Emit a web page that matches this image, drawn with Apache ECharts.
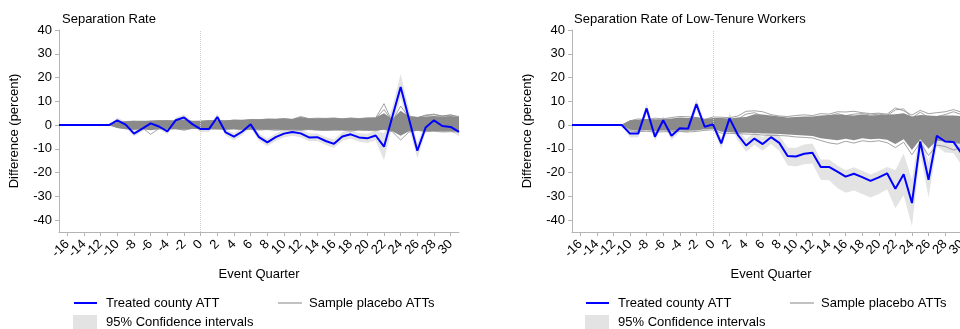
<!DOCTYPE html>
<html>
<head>
<meta charset="utf-8">
<script src="https://cdn.jsdelivr.net/npm/echarts@6/dist/echarts.min.js"></script>
<style>
html,body{margin:0;padding:0;background:#fff;}
#chart{width:960px;height:329px;}
</style>
</head>
<body>
<div id="chart"></div>
<script>
// ---- categories ----
const quarters = [-17,-16,-15,-14,-13,-12,-11,-10,-9,-8,-7,-6,-5,-4,-3,-2,-1,0,1,2,3,4,5,6,7,8,9,10,11,12,13,14,15,16,17,18,19,20,21,22,23,24,25,26,27,28,29,30,31];
const yTicks = [-40,-30,-20,-10,0,10,20,30,40];
const titles = ["Separation Rate", "Separation Rate of Low-Tenure Workers"];

// ---- Left panel: Separation Rate ----
const attL = [0,0,0,0,0,0,0, 2.0,0.2,-3.6,-1.5,0.7,-0.6,-2.7,2.0,3.2,0.4,-1.7,-1.7,3.4,-3.1,-4.9,-2.7,0.3,-5.1,-7.3,-5.1,-3.6,-2.9,-3.5,-5.2,-5.1,-6.7,-7.9,-4.8,-3.9,-5.2,-5.6,-4.4,-9.1,3.5,16.0,2.5,-10.8,-1.0,2.0,-0.4,-0.8,-2.9];
const ciLoL = [0,0,0,0,0,0,0, 0.8,-1.0,-4.8,-2.7,-0.5,-1.8,-3.9,0.8,2.0,-0.8,-2.9,-2.9,2.0,-4.5,-6.4,-4.2,-1.2,-6.6,-8.9,-6.7,-5.2,-4.5,-5.1,-6.8,-6.7,-8.4,-9.7,-6.6,-5.7,-7.0,-7.5,-6.5,-14.8,-0.5,11.5,-1.5,-14.0,-3.0,0.3,-2.1,-2.6,-4.8];
const ciHiL = [0,0,0,0,0,0,0, 3.2,1.4,-2.4,-0.3,1.9,0.6,-1.5,3.2,4.4,1.6,-0.5,-0.5,4.8,-1.7,-3.4,-1.2,1.8,-3.6,-5.7,-3.5,-2.0,-1.3,-1.9,-3.6,-3.5,-5.0,-6.1,-3.0,-2.1,-3.4,-3.7,-2.3,-3.4,7.5,21.5,6.5,-7.6,1.0,3.7,1.3,1.0,-1.0];
const plLoL = [0,0,0,0,0,0,0, -1.2,-1.8,-2.0,-1.8,-2.2,-1.8,-1.8,-1.8,-2.0,-1.6,-1.6,-1.8,-1.8,-1.8,-1.8,-1.9,-1.9,-2.0,-2.0,-2.0,-2.1,-2.0,-2.1,-2.0,-2.1,-2.2,-2.2,-2.1,-2.3,-2.2,-2.2,-2.3,-2.0,-2.6,-4.5,-2.6,-2.4,-2.6,-2.5,-2.7,-2.6,-2.7];
const plHiL = [0,0,0,0,0,0,0, 1.2,1.6,1.8,1.8,1.8,2.0,2.0,1.9,2.2,1.8,1.8,2.0,2.0,2.0,2.2,2.2,2.4,2.4,2.5,2.6,2.8,2.6,3.4,2.8,2.8,2.9,2.9,2.8,2.9,2.8,3.0,3.2,5.0,2.4,6.0,3.6,3.4,3.6,3.8,3.6,3.8,3.4];
const plOut1L = [0,0,0,0,0,0,0, 1.0,1.5,1.6,1.2,1.7,1.8,1.6,1.8,2.1,1.4,1.6,1.9,1.8,1.7,2.1,1.9,2.3,2.2,2.6,2.5,2.7,2.4,3.6,2.7,2.9,2.8,3.0,2.6,3.0,2.7,3.1,3.0,9.0,1.2,5.0,3.8,3.2,4.0,4.3,3.9,4.1,3.6];
const plOut2L = [0,0,0,0,0,0,0, -1.0,-1.5,-1.8,-1.2,-3.9,-1.5,-1.7,-1.5,-2.2,-1.4,-1.5,-1.6,-1.7,-1.9,-1.6,-2.0,-1.8,-2.1,-1.9,-2.2,-2.0,-2.1,-2.2,-1.9,-2.2,-2.3,-2.1,-2.2,-2.5,-2.1,-2.3,-2.4,-1.6,-2.8,-6.3,-2.9,-2.2,-2.8,-2.6,-2.9,-2.8,-2.9];
const plOut3L = [0,0,0,0,0,0,0, 0.8,1.2,0.6,1.5,1.0,1.4,1.8,1.2,1.6,1.2,1.3,1.5,1.7,1.4,1.8,1.6,2.1,2.0,2.2,2.3,2.5,2.2,2.8,2.4,2.6,2.5,2.8,2.4,2.8,2.6,2.7,2.8,6.5,1.6,8.0,3.2,3.0,4.2,4.6,3.7,4.4,3.2];

// ---- Right panel: Separation Rate of Low-Tenure Workers ----
const attR = [0,0,0,0,0,0,0, -3.6,-3.5,7.0,-4.9,2.0,-4.5,-1.3,-1.5,8.8,-0.7,0.3,-7.7,2.8,-4.1,-8.6,-5.7,-8.0,-5.1,-7.5,-13.0,-13.2,-12.1,-11.7,-17.6,-17.6,-19.6,-21.7,-20.5,-21.9,-23.5,-22.0,-20.3,-26.8,-20.7,-32.8,-6.9,-23.0,-4.5,-6.9,-7.1,-12.0,-10.0];
const ciLoR = [0,0,0,0,0,0,0, -5.2,-5.1,4.8,-6.6,0.2,-6.3,-3.0,-3.3,6.5,-2.5,-1.5,-10.0,0.5,-6.5,-11.2,-8.3,-10.8,-8.0,-10.8,-17.0,-17.4,-16.5,-16.2,-23.0,-23.2,-26.5,-28.5,-27.5,-29.0,-30.5,-29.0,-27.0,-35.0,-29.5,-42.5,-12.0,-30.5,-9.0,-11.5,-11.8,-17.0,-15.0];
const ciHiR = [0,0,0,0,0,0,0, -2.0,-1.9,9.2,-3.2,3.8,-2.7,0.4,0.3,11.0,1.1,2.1,-5.4,5.1,-1.7,-6.0,-3.1,-5.2,-2.2,-4.2,-9.5,-9.5,-8.2,-7.8,-14.5,-14.5,-17.0,-19.0,-17.8,-19.2,-20.8,-19.3,-17.6,-19.0,-12.0,-23.0,-1.8,-15.5,0.0,-2.3,-2.4,-7.0,-5.0];
const plLoR = [0,0,0,0,0,0,0, -2.0,-2.4,-2.2,-2.5,-2.3,-2.4,-2.2,-2.4,-2.3,-1.8,-1.6,-2.8,-3.0,-3.2,-3.2,-3.3,-3.5,-3.6,-3.8,-4.0,-4.2,-4.4,-4.6,-5.5,-6.0,-6.4,-5.8,-6.4,-5.6,-6.0,-5.8,-6.2,-8.0,-6.0,-10.5,-6.0,-10.0,-6.5,-7.0,-7.5,-8.0,-7.5];
const plHiR = [0,0,0,0,0,0,0, 2.0,2.2,2.6,2.4,2.4,2.8,3.2,3.0,3.4,2.6,3.0,3.0,2.8,3.2,3.4,4.6,4.4,4.0,3.6,3.2,3.4,3.6,3.6,4.0,4.2,4.4,4.2,4.0,4.4,4.0,4.2,4.4,4.6,5.0,3.6,4.2,4.0,3.8,4.0,4.0,3.8,3.6];
const plOut1R = [0,0,0,0,0,0,0, 1.8,2.6,2.2,2.9,2.6,3.2,3.6,3.5,3.2,2.4,3.4,3.3,3.1,3.8,5.8,6.0,5.6,4.4,3.8,3.6,4.0,4.3,4.0,4.8,4.6,5.6,5.5,5.8,5.2,4.8,5.0,4.6,7.2,6.0,4.2,6.2,4.8,5.2,5.6,6.5,5.4,4.6];
const plOut2R = [0,0,0,0,0,0,0, -2.4,-2.8,-2.6,-3.0,-2.8,-2.8,-2.6,-2.9,-2.7,-2.2,-2.0,-3.4,-3.5,-3.6,-3.8,-3.9,-4.2,-4.3,-4.4,-4.6,-5.0,-5.2,-5.4,-6.5,-7.5,-8.0,-6.8,-7.6,-6.6,-7.0,-6.6,-7.4,-9.5,-7.2,-12.5,-7.4,-12.8,-8.4,-9.0,-10.5,-9.4,-9.0];
const plOut3R = [0,0,0,0,0,0,0, 1.4,-1.0,1.8,0.6,2.0,1.2,2.6,1.0,2.8,1.0,2.4,1.8,2.2,2.6,4.6,5.2,3.8,3.4,2.8,2.4,3.0,3.2,3.0,3.4,3.8,4.8,4.0,4.6,4.8,4.2,4.6,4.0,6.4,6.8,3.0,5.4,3.2,3.6,4.4,5.6,4.4,3.8];

// ---- build options ----
const FAM = 'Liberation Sans, Arial, sans-serif';
const BLUE = '#0000ff', PLAC = '#8a8a8a', CI = '#e3e3e3', AXIS = '#b4b4b4', TXT = '#000';
const cats = quarters.map(String);
const isEven = (i) => quarters[i] % 2 === 0;

const grids = [
  {left: 59, top: 30, width: 400, height: 202, containLabel: false, outerBoundsMode: 'none'},
  {left: 572, top: 30, width: 398, height: 202, containLabel: false, outerBoundsMode: 'none'}
];

function xAxisFor(g) {
  return {
    type: 'category', gridIndex: g, data: cats, boundaryGap: false,
    axisLine: {show: true, onZero: false, lineStyle: {color: AXIS, width: 1}},
    axisTick: {show: true, interval: (i) => isEven(i), length: 4, lineStyle: {color: AXIS}},
    axisLabel: {interval: 0, formatter: (v) => (Number(v) % 2 === 0 ? v : ''),
                rotate: 45, margin: 10, fontSize: 13,
                color: TXT, fontFamily: FAM, hideOverlap: false},
    splitLine: {show: false},
    name: 'Event Quarter', nameLocation: 'middle', nameGap: 36,
    nameTextStyle: {fontSize: 13, color: TXT, fontFamily: FAM}
  };
}
function yAxisFor(g) {
  return {
    type: 'value', gridIndex: g, min: -45, max: 40,
    axisLine: {show: true, lineStyle: {color: AXIS, width: 1}},
    axisTick: {show: true, length: 4, customValues: yTicks, lineStyle: {color: AXIS}},
    axisLabel: {customValues: yTicks, margin: 7, fontSize: 13, color: TXT, fontFamily: FAM},
    splitLine: {show: false},
    name: 'Difference (percent)', nameLocation: 'middle', nameGap: 38,
    nameTextStyle: {fontSize: 13, color: TXT, fontFamily: FAM}
  };
}

function bandSeries(g, lo, hi, color, name, stackId, z) {
  const diff = hi.map((v, i) => +(v - lo[i]).toFixed(3));
  return [
    {name: stackId + 'base', type: 'line', xAxisIndex: g, yAxisIndex: g, data: lo, stack: stackId, stackStrategy: 'all',
     symbol: 'none', lineStyle: {opacity: 0, width: 0}, silent: true, z: z},
    {name: name, type: 'line', xAxisIndex: g, yAxisIndex: g, data: diff, stack: stackId, stackStrategy: 'all',
     symbol: 'none', lineStyle: {opacity: 0, width: 0}, areaStyle: {color: color, opacity: 1}, itemStyle: {color: color}, silent: true, z: z}
  ];
}
function lineSeries(g, data, color, width, name, z) {
  return {name: name, type: 'line', xAxisIndex: g, yAxisIndex: g, data: data, symbol: 'none',
          lineStyle: {color: color, width: width}, itemStyle: {color: color}, silent: true, z: z};
}

const panels = [
  {att: attL, ciLo: ciLoL, ciHi: ciHiL, plLo: plLoL, plHi: plHiL, outs: [plOut1L, plOut2L, plOut3L]},
  {att: attR, ciLo: ciLoR, ciHi: ciHiR, plLo: plLoR, plHi: plHiR, outs: [plOut1R, plOut2R, plOut3R]}
];

const series = [];
panels.forEach((p, g) => {
  series.push(...bandSeries(g, p.ciLo, p.ciHi, CI, '95% Confidence intervals', 'ci' + g, 1));
  series.push(...bandSeries(g, p.plLo, p.plHi, PLAC, 'Sample placebo ATTs', 'pl' + g, 2));
  p.outs.forEach(o => series.push(lineSeries(g, o, '#8c8c8c', 0.8, 'Sample placebo ATTs', 3)));
  const att = lineSeries(g, p.att, BLUE, 2, 'Treated county ATT', 5);
  att.markLine = {silent: true, symbol: 'none', label: {show: false},
    lineStyle: {color: '#cfcfcf', type: 'dotted', width: 1}, data: [{xAxis: '0'}]};
  series.push(att);
});

// legend drawn as graphics (two rows under each panel)
const FONT = '13px "Liberation Sans", Arial, sans-serif';
function legendFor(dx) {
  return [
    {type: 'line', shape: {x1: 74 + dx, y1: 303, x2: 97 + dx, y2: 303}, style: {stroke: BLUE, lineWidth: 2}},
    {type: 'text', x: 106 + dx, y: 303, style: {text: 'Treated county ATT', font: FONT, fill: TXT, textVerticalAlign: 'middle'}},
    {type: 'line', shape: {x1: 278 + dx, y1: 303, x2: 302 + dx, y2: 303}, style: {stroke: '#999999', lineWidth: 1.2}},
    {type: 'text', x: 309 + dx, y: 303, style: {text: 'Sample placebo ATTs', font: FONT, fill: TXT, textVerticalAlign: 'middle'}},
    {type: 'rect', shape: {x: 73 + dx, y: 315, width: 24, height: 14}, style: {fill: CI}},
    {type: 'text', x: 106 + dx, y: 322, style: {text: '95% Confidence intervals', font: FONT, fill: TXT, textVerticalAlign: 'middle'}}
  ];
}

const option = {
  animation: false,
  backgroundColor: '#ffffff',
  title: [
    {text: titles[0], left: 62, top: 13, padding: 0, textStyle: {fontSize: 13, fontWeight: 'normal', color: TXT, fontFamily: FAM}},
    {text: titles[1], left: 574, top: 13, padding: 0, textStyle: {fontSize: 13, fontWeight: 'normal', color: TXT, fontFamily: FAM}}
  ],
  grid: grids,
  xAxis: [xAxisFor(0), xAxisFor(1)],
  yAxis: [yAxisFor(0), yAxisFor(1)],
  series: series,
  graphic: [...legendFor(0), ...legendFor(512)]
};

const chart = echarts.init(document.getElementById('chart'), null, {renderer: 'canvas'});
chart.setOption(option);
</script>
</body>
</html>
